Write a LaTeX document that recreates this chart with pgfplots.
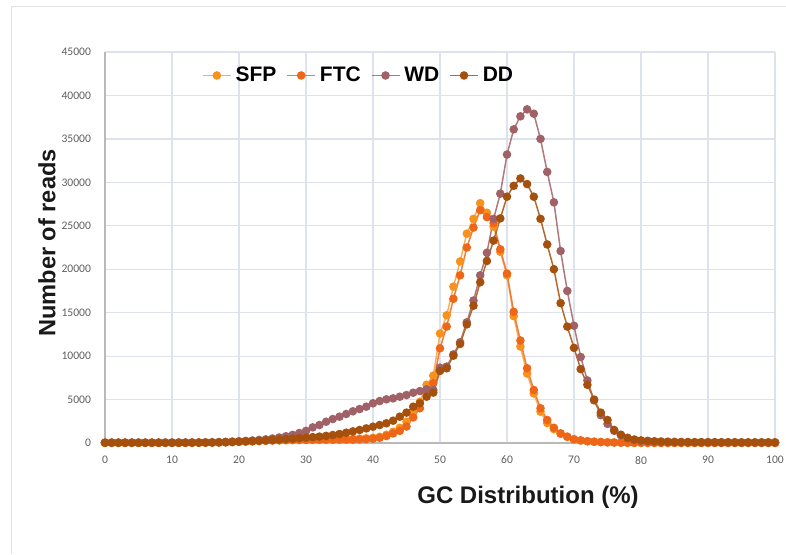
\documentclass[border=0pt]{standalone}
\usepackage{fontspec}
\setmainfont{Carlito}
\newfontfamily\arialfont{Liberation Sans}
\usepackage{pgfplots}
\usepackage{pgfplotstable}
\pgfplotsset{compat=1.18}

\definecolor{sfpc}{RGB}{247,146,30}
\definecolor{ftcc}{RGB}{238,102,24}
\definecolor{wdc}{RGB}{160,98,102}
\definecolor{ddc}{RGB}{165,80,12}
\definecolor{gridc}{RGB}{222,226,236}
\definecolor{tickc}{RGB}{95,95,95}

% GC content (%) vs number of reads
\pgfplotstableread{
x sfp ftc wd dd
0 20 15 50 40
1 20 15 50 40
2 20 15 50 40
3 20 15 50 40
4 20 15 50 40
5 20 15 50 40
6 20 15 50 40
7 20 15 50 40
8 20 15 50 40
9 20 15 50 40
10 20 15 50 40
11 20 15 55 40
12 25 20 60 45
13 30 25 65 50
14 35 30 70 55
15 40 35 75 60
16 50 45 85 70
17 65 55 100 85
18 90 80 130 100
19 120 110 160 130
20 150 140 200 160
21 180 170 240 190
22 210 200 290 220
23 240 230 350 260
24 270 260 420 300
25 300 290 520 350
26 320 310 640 400
27 340 330 780 450
28 360 340 940 500
29 380 350 1150 560
30 400 360 1400 620
31 410 370 1800 680
32 420 375 2070 740
33 430 380 2450 820
34 440 385 2760 920
35 450 390 3030 1040
36 460 395 3340 1190
37 480 400 3650 1340
38 500 420 3910 1500
39 540 450 4180 1680
40 600 500 4570 1880
41 720 600 4830 2070
42 950 800 5030 2270
43 1300 1100 5140 2570
44 1750 1400 5330 3030
45 2450 1900 5520 3500
46 3500 2950 5790 4180
47 4750 4000 5980 4570
48 6700 6000 6180 5330
49 7750 6900 6100 5800
50 12600 10900 8670 8300
51 14700 13400 8800 8600
52 18000 16600 10200 10050
53 20900 19300 11600 11400
54 24100 22500 13900 13650
55 25800 24800 16400 15800
56 27600 26800 19300 18500
57 26500 26000 21900 20950
58 24900 25300 25800 23300
59 22000 22300 28700 25850
60 19300 19500 33200 28350
61 14600 15100 36100 29600
62 11100 11800 37600 30450
63 8000 8600 38400 29800
64 5700 6100 37900 28350
65 3600 4000 35000 25800
66 2300 2650 31200 22850
67 1600 1750 27700 20000
68 1050 1120 22100 16100
69 700 730 17500 13400
70 420 430 13500 10950
71 290 300 9900 8500
72 200 210 7200 6700
73 150 150 4900 5000
74 110 110 3200 3500
75 80 80 2200 2650
76 60 60 1400 1500
77 40 45 900 950
78 30 35 550 600
79 25 25 350 400
80 20 20 250 300
81 15 15 200 250
82 15 15 160 200
83 15 15 130 170
84 15 15 110 150
85 15 15 100 130
86 10 10 90 120
87 10 10 90 110
88 10 10 80 100
89 10 10 80 100
90 10 10 80 100
91 10 10 70 90
92 10 10 70 90
93 10 10 70 90
94 10 10 70 90
95 10 10 60 80
96 10 10 60 80
97 10 10 60 80
98 10 10 60 80
99 10 10 60 80
100 10 10 60 80
}\gcdata

\begin{document}
\begin{tikzpicture}
\useasboundingbox (-52.5pt,-55.5pt) rectangle (340.5pt,221.5pt);
\draw[color=gray!22,line width=0.5pt] (-46.5pt,-55.5pt) -- (-46.5pt,218.5pt) -- (340.5pt,218.5pt);
\begin{axis}[
at={(0pt,0pt)},anchor=south west,
scale only axis,width=335pt,height=195.5pt,
xmin=0,xmax=100,ymin=0,ymax=45000,
xtick={0,10,...,100},
ytick={0,5000,...,45000},
scaled y ticks=false,
/pgf/number format/1000 sep={},
/pgf/number format/assume math mode=true,
grid=major,grid style={gridc,line width=0.6pt},
axis x line*=bottom,axis y line*=left,
axis line style={draw=gray!55,line width=0.6pt,-},
major tick length=0pt,
tick label style={font=\fontsize{5.8}{6}\selectfont,text=tickc},
xticklabel style={yshift=-3pt},
yticklabel style={xshift=-3.5pt},
every axis plot/.append style={line width=0.75pt,mark=*,mark size=1.75pt},
legend style={at={(0.38,0.94)},anchor=center,draw=none,fill=none,
  font=\arialfont\bfseries\fontsize{10.5}{12}\selectfont,
  /tikz/every even column/.append style={column sep=3pt}},
legend columns=4,
legend image code/.code={\draw[mark repeat=2,mark phase=2] plot coordinates {(0pt,0pt)(7pt,0pt)(14pt,0pt)};},
]
\addplot[color=sfpc!75,mark options={fill=sfpc,draw=sfpc}] table[x=x,y=sfp] {\gcdata};
\addlegendentry{SFP}
\addplot[color=ftcc!85,mark options={fill=ftcc,draw=ftcc}] table[x=x,y=ftc] {\gcdata};
\addlegendentry{FTC}
\addplot[color=wdc!85,mark options={fill=wdc,draw=wdc}] table[x=x,y=wd] {\gcdata};
\addlegendentry{WD}
\addplot[color=ddc!85,mark options={fill=ddc,draw=ddc}] table[x=x,y=dd] {\gcdata};
\addlegendentry{DD}
\end{axis}
\node[rotate=90,font=\arialfont\bfseries\fontsize{11.8}{13}\selectfont,text=black!90] at (-29pt,100pt) {Number of reads};
\node[font=\arialfont\bfseries\fontsize{12}{14}\selectfont,text=black!90] at (211.5pt,-27pt) {GC Distribution (\%)};
\end{tikzpicture}
\end{document}
